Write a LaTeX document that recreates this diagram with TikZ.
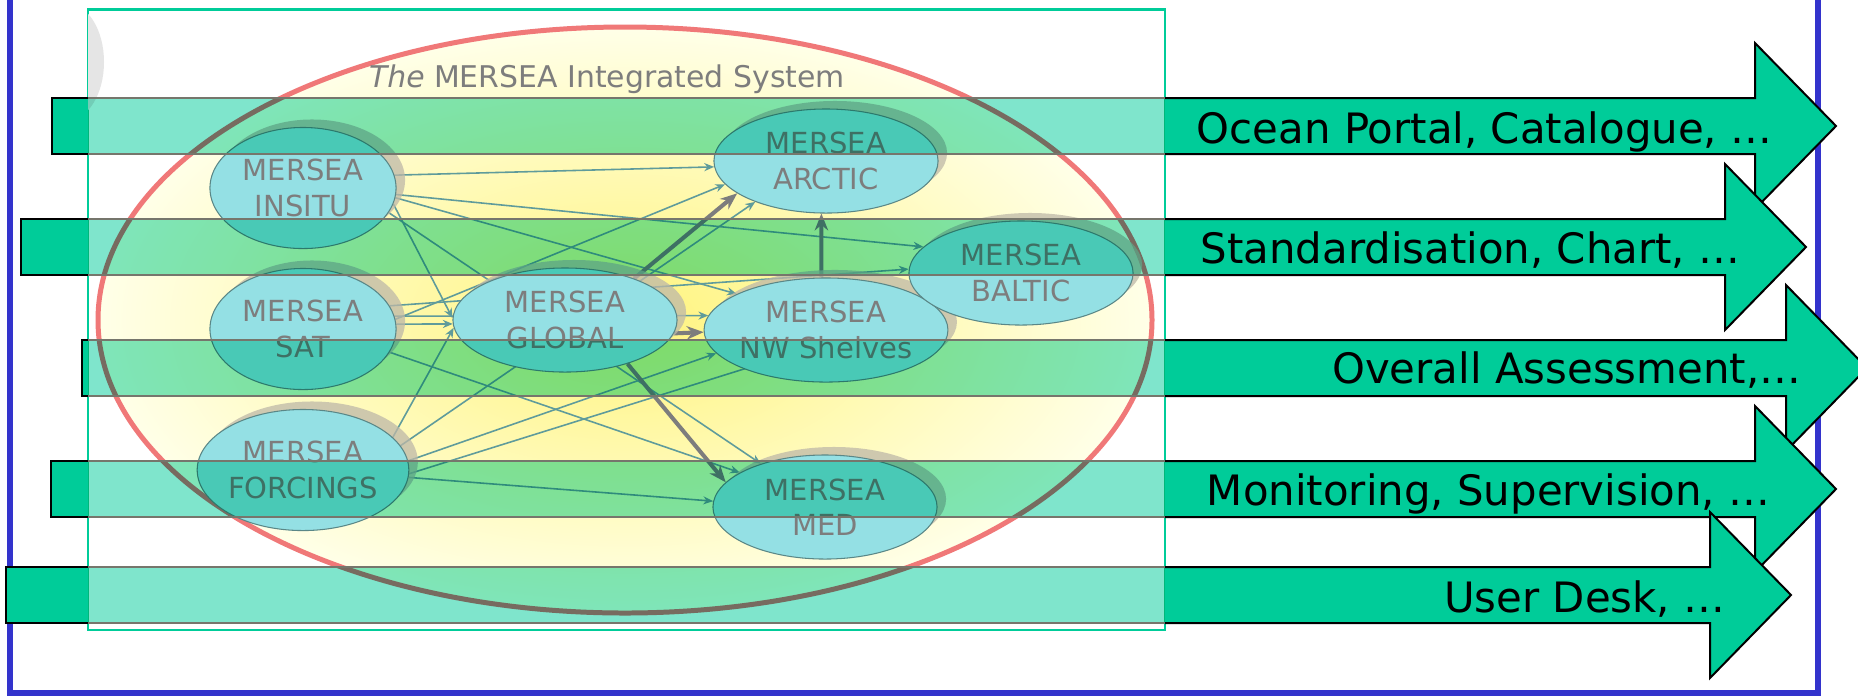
\documentclass[tikz,border=0pt]{standalone}
\usepackage{fontspec}
\usetikzlibrary{shapes.geometric,arrows.meta,shadows}
\newfontfamily\bannerfont{DejaVu Sans}
\newfontfamily\systemfont{DejaVu Sans}
\definecolor{bannergreen}{RGB}{0,204,153}
\definecolor{bannertint}{RGB}{127,229,204}
\definecolor{bannerrule}{RGB}{118,118,108}
\definecolor{slideblue}{RGB}{51,51,204}
\definecolor{ringred}{RGB}{240,120,120}
\definecolor{ringyellow}{RGB}{255,244,125}
\definecolor{ringpale}{RGB}{255,255,232}
\definecolor{systemcyan}{RGB}{148,224,228}
\definecolor{systemline}{RGB}{90,135,135}
\definecolor{systemshadow}{RGB}{190,184,168}
\definecolor{linkteal}{RGB}{95,155,155}
\definecolor{linkgray}{RGB}{125,125,125}
\definecolor{labelgray}{RGB}{125,125,125}
\pgfdeclarelayer{back}
\pgfdeclarelayer{links}
\pgfdeclarelayer{front}
\pgfsetlayers{back,links,main,front}

\begin{document}
\begin{tikzpicture}[x=0.01cm,y=-0.01cm,
  system/.style={ellipse,draw=systemline,line width=0.3pt,fill=systemcyan,
    inner sep=0pt,minimum width=2.24cm,minimum height=1.04cm,align=center,
    text=labelgray,font=\systemfont\fontsize{8.25}{10}\selectfont,
    drop shadow={shadow xshift=0.09cm,shadow yshift=0.08cm,fill=systemshadow,opacity=0.75}},
  source/.style={system,minimum width=1.86cm,minimum height=1.21cm},
  link/.style={linkteal,line width=0.45pt,-{Stealth[length=2.8pt,width=2.3pt]}},
  mainlink/.style={linkgray,line width=1.15pt,-{Stealth[length=4.8pt,width=3.8pt]}},
  banner/.style={fill=bannergreen,draw=black,line width=0.57pt},
  bannerband/.style={fill=bannertint,blend mode=multiply},
  bannerlabel/.style={anchor=base east,inner sep=0pt,font=\bannerfont\fontsize{11.9}{14}\selectfont}]
\useasboundingbox (0,0) rectangle (1858,696);

\begin{pgfonlayer}{back}
\draw[slideblue,line width=1.7pt] (10,0) -- (10,693) -- (1818,693) -- (1818,0);
\draw[bannergreen,line width=0.7pt,fill=white] (88,9.5) rectangle (1165,630);
\begin{scope}
\clip (88,9.5) rectangle (1165,630);
\fill[black!10] (68,62) ellipse [x radius=36,y radius=58];
\end{scope}
\shade[inner color=ringyellow,outer color=ringpale] (625,320) ellipse [x radius=527,y radius=293];
\draw[ringred,line width=1.42pt] (625,320) ellipse [x radius=527,y radius=293];
\end{pgfonlayer}

\node[source] (insitu) at (303,188) {MERSEA\\INSITU};
\node[source] (sat) at (303,329) {MERSEA\\SAT};
\node[source] (forcings) at (303,470) {MERSEA\\FORCINGS};
\node[system] (global) at (565,320) {MERSEA\\GLOBAL};
\node[system] (arctic) at (826,161) {MERSEA\\ARCTIC};
\node[system] (nwshelves) at (826,330) {MERSEA\\NW Shelves};
\node[system] (baltic) at (1021,273) {MERSEA\\BALTIC};
\node[system] (med) at (825,507) {MERSEA\\MED};
\node[anchor=base,inner sep=0pt,text=labelgray,font=\systemfont\fontsize{8.5}{10}\selectfont] (caption) at (607,87) {\textit{The} MERSEA Integrated System};

\begin{pgfonlayer}{links}
\draw[link] (insitu.8) -- (arctic.183);
\draw[link] (insitu.-4) -- (baltic.165);
\draw[link] (insitu.-6) -- (nwshelves.158);
\draw[link] (insitu.-10) -- (global.179);
\draw[link] (insitu.-16) -- (med.146);
\draw[link] (sat.3) -- (global.182);
\draw[link] (sat.6) -- (arctic.193);
\draw[link] (sat.15) -- (baltic.178);
\draw[link] (sat.8) -- (nwshelves.173);
\draw[link] (sat.-15) -- (med.158);
\draw[link] (forcings.20) -- (global.184);
\draw[link] (forcings.14) -- (arctic.210);
\draw[link] (forcings.5) -- (nwshelves.192);
\draw[link] (forcings.-2) -- (baltic.203);
\draw[link] (forcings.-4) -- (med.177);
\draw[mainlink] (global.31) -- (arctic.200);
\draw[mainlink] (global.-7) -- (nwshelves.181);
\draw[mainlink] (global.-35) -- (med.166);
\draw[mainlink] (nwshelves.95) -- (arctic.265);
\draw[mainlink] (nwshelves.16) -- (baltic.191);
\end{pgfonlayer}

\begin{pgfonlayer}{front}
\fill[bannerband] (88,98) rectangle (1165,154);
\fill[bannerband] (88,219) rectangle (1165,275);
\fill[bannerband] (88,340) rectangle (1165,396);
\fill[bannerband] (88,461) rectangle (1165,517);
\fill[bannerband] (88,567) rectangle (1165,623);
\draw[bannerrule,line width=0.57pt] (88,98) -- (1165,98) (88,154) -- (1165,154)
  (88,219) -- (1165,219) (88,275) -- (1165,275) (88,340) -- (1165,340) (88,396) -- (1165,396)
  (88,461) -- (1165,461) (88,517) -- (1165,517) (88,567) -- (1165,567) (88,623) -- (1165,623);
\filldraw[banner] (88,98) -- (52,98) -- (52,154) -- (88,154);
\filldraw[banner] (88,219) -- (21,219) -- (21,275) -- (88,275);
\filldraw[banner] (88,340) -- (82,340) -- (82,396) -- (88,396);
\filldraw[banner] (88,461) -- (51,461) -- (51,517) -- (88,517);
\filldraw[banner] (88,567) -- (6,567) -- (6,623) -- (88,623);
\filldraw[banner] (1165,98) -- (1755,98) -- (1755,43) -- (1836,126) -- (1755,209) -- (1755,154) -- (1165,154);
\node[bannerlabel] (portal) at (1773,143) {Ocean Portal, Catalogue, …};
\filldraw[banner] (1165,219) -- (1725,219) -- (1725,164) -- (1806,247) -- (1725,330) -- (1725,275) -- (1165,275);
\node[bannerlabel] (standard) at (1741,263) {Standardisation, Chart, …};
\filldraw[banner] (1165,340) -- (1786,340) -- (1786,285) -- (1867,368) -- (1786,451) -- (1786,396) -- (1165,396);
\node[bannerlabel] (assess) at (1802,383) {Overall Assessment,…};
\filldraw[banner] (1165,461) -- (1755,461) -- (1755,406) -- (1836,489) -- (1755,572) -- (1755,517) -- (1165,517);
\node[bannerlabel] (monitor) at (1771,505) {Monitoring, Supervision, …};
\filldraw[banner] (1165,567) -- (1710,567) -- (1710,512) -- (1791,595) -- (1710,678) -- (1710,623) -- (1165,623);
\node[bannerlabel] (desk) at (1726,612) {User Desk, …};
\end{pgfonlayer}
\end{tikzpicture}
\end{document}
